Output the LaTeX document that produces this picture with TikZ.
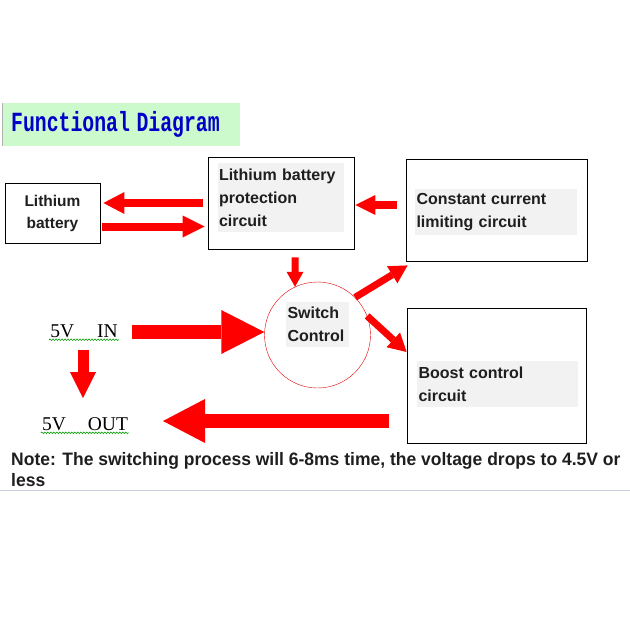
\documentclass[tikz,border=0pt]{standalone}
\usepackage{fontspec}
\setmainfont{Liberation Serif}
\setsansfont{Liberation Sans}
\setmonofont{Liberation Mono}
\newfontfamily\notefont[FakeStretch=0.972]{Liberation Sans}
\usetikzlibrary{positioning, calc, arrows.meta, decorations.pathmorphing}
\definecolor{titlegreen}{RGB}{204,250,204}
\definecolor{titleblue}{RGB}{0,0,200}
\definecolor{lblgray}{RGB}{242,242,242}
\definecolor{txtdark}{RGB}{30,30,30}
\definecolor{rulegray}{RGB}{200,208,224}

\begin{document}
\begin{tikzpicture}[x=1pt, y=-1pt,
    box/.style={draw, thick, minimum width=#1},
    lbl/.style={fill=lblgray, font=\sffamily\bfseries\fontsize{16}{23}\selectfont, text=txtdark, align=left, inner xsep=1.5pt},
    redarr/.style n args={3}{draw=red, line width=#1, -{Triangle[length=#2, width=#3, line width=0pt]}},
    volt/.style={font=\rmfamily\fontsize{19.5}{22}\selectfont, inner sep=1pt},
    squiggle/.style={green!60!black, line width=0.6pt, decorate, decoration={snake, amplitude=0.8pt, segment length=3pt}}]
    \useasboundingbox (0,0) rectangle (630,630);

    % Title
    \node[anchor=north west, fill=titlegreen, text width=220pt, inner xsep=9pt, minimum height=43pt, align=left,
          font=\ttfamily\bfseries\fontsize{19.8}{20}\selectfont, text=titleblue] (title) at (2,103)
          {\raisebox{-2pt}{\scalebox{1}[1.4]{Functional Diagram}}};
    \draw[gray!60, line width=1pt] (title.north west) -- (title.south west);

    % Boxes
    \node[box=95pt, minimum height=60pt, align=center, font=\sffamily\bfseries\fontsize{15.5}{22}\selectfont, text=txtdark] (lith) at (52.5,213) {Lithium\\battery};
    \node[box=146pt, minimum height=92pt] (prot) at (281,203) {};
    \node[lbl, text width=123pt, minimum height=69pt] (protlbl) at (280.5,197.5) {Lithium battery\\protection\\circuit};
    \node[box=181pt, minimum height=102pt] (const) at (496.5,210) {};
    \node[lbl, text width=159pt, minimum height=46pt] (constlbl) at (496,212) {Constant current\\limiting circuit};
    \node[box=179pt, minimum height=135pt] (boost) at (496.5,375.5) {};
    \node[lbl, text width=158pt, minimum height=46pt] (boostlbl) at (497.5,384) {Boost control\\circuit};

    % Switch
    \node[circle, draw=red!90!black, minimum size=106pt] (sw) at (317.5,335) {};
    \node[lbl, text width=60pt, minimum height=45pt] (swlbl) at (317.5,324.5) {Switch\\Control};

    % 5V in / out
    \node[volt] (vin) at (84,331) {5V\hspace{23pt}IN};
    \node[volt] (vout) at (85,424) {5V\hspace{22pt}OUT};
    \draw[squiggle] ($(vin.south west)+(0,1)$) -- ($(vin.south east)+(0,1)$);
    \draw[squiggle] ($(vout.south west)+(0,1)$) -- ($(vout.south east)+(0,1)$);

    % Arrows
    \draw[redarr={8pt}{21pt}{22pt}] ($(prot.west)+(-5,0)$) -- ($(lith.east)+(3,-10)$);
    \draw[redarr={8pt}{22pt}{22pt}] ($(lith.east)+(2,13.5)$) -- ($(prot.west)+(-3,23.5)$);
    \draw[redarr={8pt}{20pt}{20pt}] ($(const.west)+(-9,-5)$) -- ($(prot.east)+(1,2)$);
    \draw[redarr={7pt}{15pt}{17pt}] ($(prot.south)+(14,8)$) -- (sw.115);
    \draw[redarr={7pt}{18pt}{20pt}] (sw.45) -- ($(const.south west)+(2,4)$);
    \draw[redarr={7pt}{18pt}{20pt}] (sw.21) -- ($(boost.west)+(0,-23.5)$);
    \draw[redarr={14pt}{43pt}{44pt}] ($(vin.center)+(48,1)$) -- ($(sw.west)+(0,-3)$);
    \draw[redarr={11pt}{26pt}{26pt}] ($(vin.center)+(-1,19)$) -- ($(vout.center)+(-2,-26)$);
    \draw[redarr={14pt}{42pt}{44pt}] ($(boost.west)+(-18,45.5)$) -- ($(vout.center)+(78,-3)$);

    % Note
    \node[anchor=north west, align=left, inner sep=0pt, text=txtdark,
          font=\notefont\bfseries\fontsize{18}{21}\selectfont] (note) at (11,452)
          {Note: The switching process will 6-8ms time, the voltage drops to 4.5V or\\less};
    \draw[rulegray, line width=1pt] (0,490) -- (630,490);

\end{tikzpicture}
\end{document}
